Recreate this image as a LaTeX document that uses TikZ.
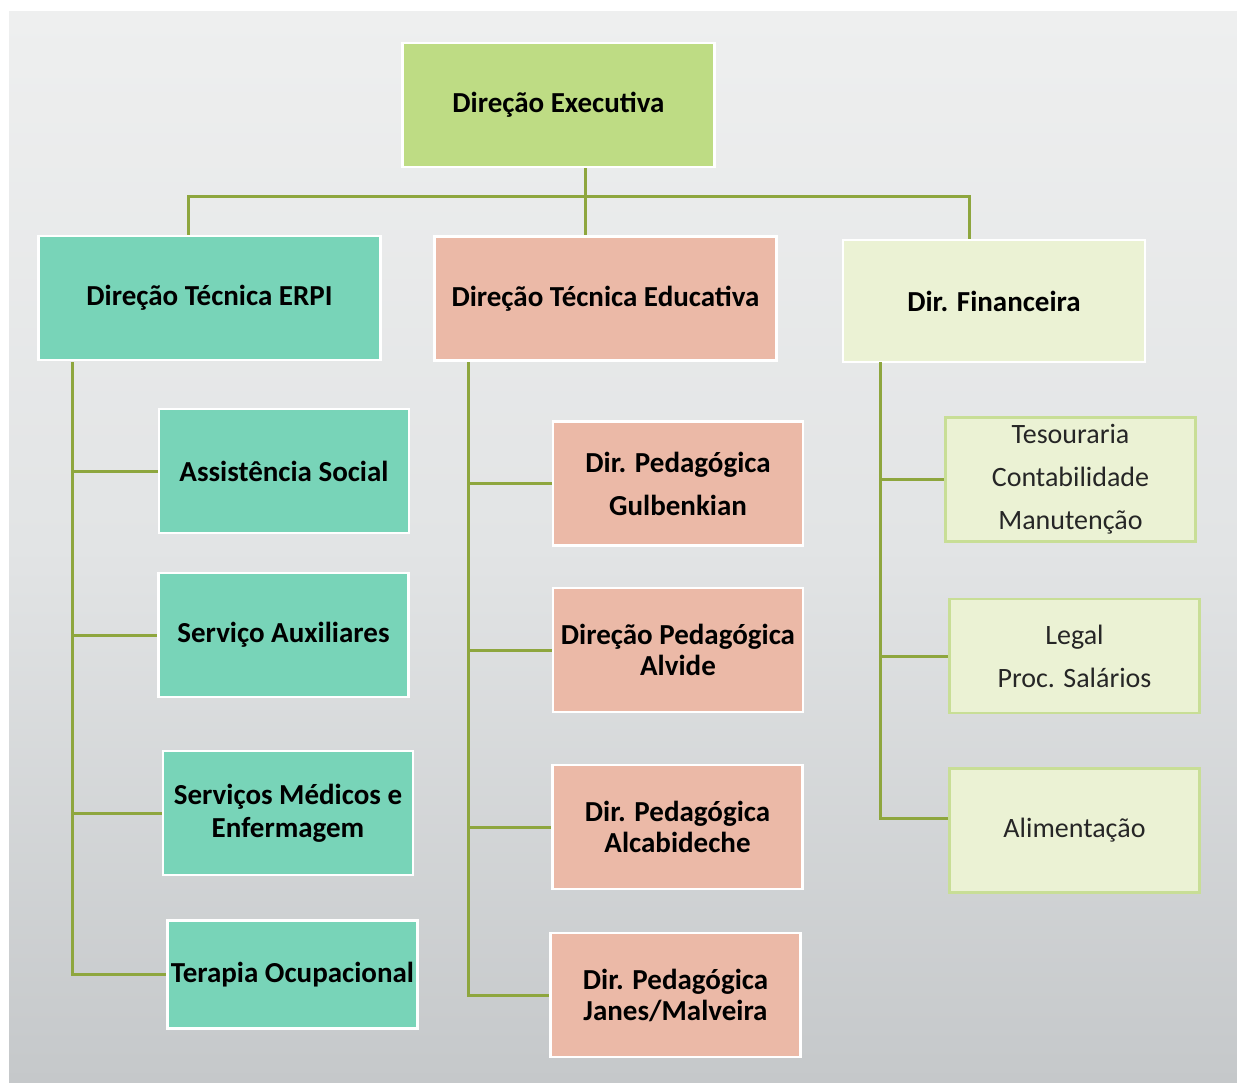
\documentclass[tikz,border=0pt]{standalone}
\usepackage{fontspec}
\setmainfont{Carlito}
\usetikzlibrary{positioning}

\definecolor{execgreen}{RGB}{190,220,132}
\definecolor{erpiteal}{RGB}{120,212,184}
\definecolor{edusalmon}{RGB}{235,185,167}
\definecolor{finpale}{RGB}{235,242,212}
\definecolor{finedge}{RGB}{200,222,150}
\definecolor{linkolive}{RGB}{142,166,62}
\definecolor{bgtop}{RGB}{238,239,239}
\definecolor{bgmid}{RGB}{226,228,229}
\definecolor{bgbot}{RGB}{197,200,202}

\begin{document}
\begin{tikzpicture}[
    x=0.5pt, y=-0.5pt,
    box/.style={rectangle, draw=white, line width=1.2pt, inner sep=1pt, align=center, font=\fontsize{14.5}{15.5}\selectfont\bfseries},
    topbox/.style={box, fill=execgreen, minimum width=156pt, minimum height=62pt},
    erpibox/.style={box, fill=erpiteal, minimum width=125pt, minimum height=62pt},
    edubox/.style={box, fill=edusalmon, minimum width=125pt, minimum height=62pt},
    finbox/.style={box, fill=finpale, minimum width=151pt, minimum height=61pt},
    finsub/.style={box, fill=finpale, draw=finedge, minimum width=125pt, minimum height=62pt, font=\fontsize{14}{15.5}\selectfont, text=black!85},
    link/.style={draw=linkolive, line width=1.5pt}
]

% Background with the grey gradient
\useasboundingbox (0,0) rectangle (1237,1082);
\fill[white] (0,0) rectangle (1237,1082);
\shade[top color=bgtop, bottom color=bgbot, middle color=bgmid] (9,11) rectangle (1237,1082);

% Top level
\node[topbox] (exec) at (558.5,105) {Direção Executiva};

% Second level
\node[erpibox, minimum width=171pt] (erpi) at (209.5,298) {Direção Técnica ERPI};
\node[edubox, minimum width=171pt] (edu) at (605.5,298.5) {Direção Técnica Educativa};
\node[finbox] (fin) at (994,301) {Dir. Financeira};

% ERPI services
\node[erpibox] (social) at (284,471) {Assistência Social};
\node[erpibox] (aux) at (283.5,635) {Serviço Auxiliares};
\node[erpibox] (med) at (288,813) {Serviços Médicos e\\[1pt]Enfermagem};
\node[erpibox, minimum height=54pt] (tera) at (292.5,974.5) {Terapia Ocupacional};

% Pedagogical directions
\node[edubox] (gulb) at (678,483.5) {Dir. Pedagógica\\[6pt]Gulbenkian};
\node[edubox] (alvide) at (678,650) {Direção Pedagógica\\Alvide};
\node[edubox] (alcab) at (677.5,827) {Dir. Pedagógica\\Alcabideche};
\node[edubox] (janes) at (675.5,995) {Dir. Pedagógica\\Janes/Malveira};

% Financial sections
\node[finsub] (teso) at (1070.5,479.5) {Tesouraria\\[6pt]Contabilidade\\[6pt]Manutenção};
\node[finsub, minimum height=57pt] (legal) at (1074.5,656) {Legal\\[6pt]Proc. Salários};
\node[finsub] (alim) at (1074.5,830.5) {Alimentação};

% Links from the top box
\coordinate (bar) at (585,196);
\coordinate (dropL) at (188,196);
\coordinate (dropR) at (969,196);
\draw[link] (exec.south -| bar) -- (bar);
\draw[link] (bar) -- (edu.north -| bar);
\draw[link] (erpi.north -| dropL) |- (dropR) -- (fin.north -| dropR);

% Spines under each direction
\coordinate (spineL) at (72,362);
\coordinate (spineM) at (468,362);
\coordinate (spineR) at (880,362);

\draw[link] (spineL) |- (tera.west);
\foreach \n in {social,aux,med}
    \draw[link] (spineL |- \n.west) -- (\n.west);

\draw[link] (spineM) |- (janes.west);
\foreach \n in {gulb,alvide,alcab}
    \draw[link] (spineM |- \n.west) -- (\n.west);

\draw[link] (spineR) |- ([yshift=6pt]alim.west);
\foreach \n in {teso,legal}
    \draw[link] (spineR |- \n.west) -- (\n.west);

\end{tikzpicture}
\end{document}
